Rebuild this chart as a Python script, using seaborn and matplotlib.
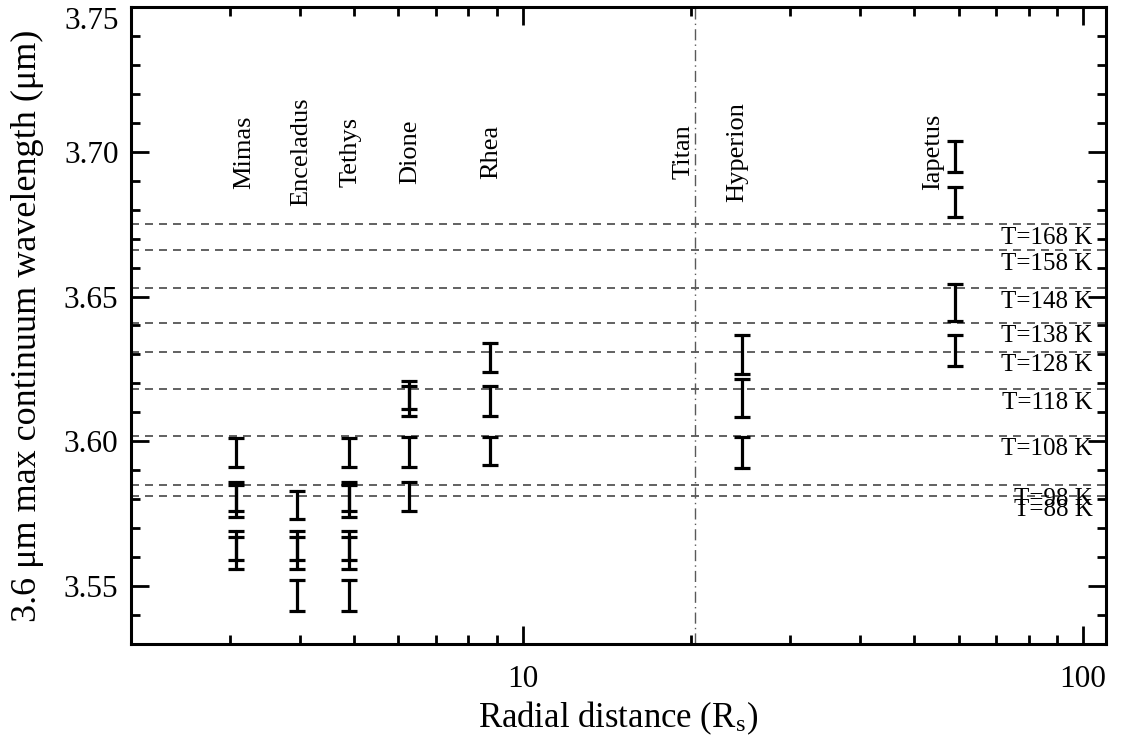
import numpy as np
import pandas as pd
import matplotlib
matplotlib.use("Agg")
import matplotlib.pyplot as plt
import matplotlib.ticker as mticker
import seaborn as sns

# Moons and their orbital distances (Saturn radii)
moonNames = ["Mimas", "Enceladus", "Tethys", "Dione", "Rhea", "Titan", "Hyperion", "Iapetus"]
moonDist = [3.08, 3.95, 4.89, 6.26, 8.74, 20.3, 24.6, 59.1]

# Error bar ranges of the 3.6 um continuum peak, one entry per observation
barMoon = (["Mimas"] * 5 + ["Enceladus"] * 4 + ["Tethys"] * 6 + ["Dione"] * 4
           + ["Rhea"] * 3 + ["Hyperion"] * 3 + ["Iapetus"] * 4)
barLow = [3.591, 3.576, 3.574, 3.559, 3.556,
          3.573, 3.559, 3.556, 3.5415,
          3.591, 3.576, 3.574, 3.559, 3.556, 3.5415,
          3.611, 3.6086, 3.591, 3.576,
          3.6238, 3.6086, 3.5917,
          3.6234, 3.6083, 3.5907,
          3.6931, 3.6776, 3.6414, 3.6259]
barHigh = [3.601, 3.586, 3.585, 3.569, 3.567,
           3.583, 3.569, 3.567, 3.552,
           3.601, 3.586, 3.585, 3.569, 3.567, 3.552,
           3.621, 3.619, 3.6014, 3.586,
           3.6338, 3.619, 3.6014,
           3.6366, 3.6214, 3.6014,
           3.7038, 3.6879, 3.6545, 3.6366]

# Temperature reference lines
tempK = [168, 158, 148, 138, 128, 118, 108, 98, 88]
tempWave = [3.675, 3.666, 3.653, 3.641, 3.631, 3.618, 3.602, 3.585, 3.581]

# small sideways nudges of the moon names (points)
labelNudge = {"Mimas": 5.8, "Enceladus": 3.6, "Tethys": 1.4, "Dione": 1.4, "Rhea": 0.7,
              "Titan": -8, "Hyperion": -3, "Iapetus": -16}

sns.set_theme(style="ticks")
plt.rcParams["font.family"] = ["Liberation Serif", "DejaVu Serif"]
plt.rcParams["mathtext.fontset"] = "stix"
plt.rcParams["text.color"] = "black"
plt.rcParams["axes.labelcolor"] = "black"
plt.rcParams["xtick.color"] = "black"
plt.rcParams["ytick.color"] = "black"

distLookup = dict(zip(moonNames, moonDist))
rows = []
for i, (m, lo, hi) in enumerate(zip(barMoon, barLow, barHigh)):
    rows.append({"bar": f"b{i}", "distance": distLookup[m], "wavelength": lo})
    rows.append({"bar": f"b{i}", "distance": distLookup[m], "wavelength": hi})
df = pd.DataFrame(rows)

fig = plt.figure(figsize=(11.22, 7.36), dpi=100)
ax = fig.add_axes([0.1168, 0.125, 0.869, 0.8655])

for lam in tempWave:
    ax.axhline(lam, color="0.28", lw=1.2, linestyle=(0, (4.8, 3.6)), zorder=1)
ax.axvline(distLookup["Titan"], color="0.35", lw=1.0, linestyle=(0, (8, 3, 1, 3)), zorder=1)

sns.lineplot(
    data=df, x="distance", y="wavelength", hue="bar",
    estimator="mean", errorbar=("pi", 100), err_style="bars",
    err_kws=dict(capsize=5.75, elinewidth=2.3, capthick=2.3),
    palette=["black"] * df["bar"].nunique(), legend=False, ax=ax,
)

ax.set_xscale("log")
ax.set_xlim(2, 110)
ax.set_ylim(3.53, 3.75)

for name, d in zip(moonNames, moonDist):
    ax.annotate(name, xy=(d, 3.70), xytext=(labelNudge[name], 0), textcoords="offset points",
                rotation=90, ha="center", va="center", fontsize=19, color="black")

for t, lam in zip(tempK, tempWave):
    ax.annotate(f"T={t} K", xy=(104, lam), xytext=(0, -2), textcoords="offset points",
                ha="right", va="top", fontsize=18, color="black")

ax.xaxis.set_major_formatter(mticker.FuncFormatter(lambda v, p: f"{v:g}"))
ax.xaxis.set_minor_formatter(mticker.NullFormatter())
ax.yaxis.set_major_locator(mticker.MultipleLocator(0.05))
ax.yaxis.set_minor_locator(mticker.MultipleLocator(0.01))
ax.yaxis.set_major_formatter(mticker.FormatStrFormatter("%.2f"))

ax.tick_params(which="both", direction="in", top=True, right=True,
               color="black", labelcolor="black")
ax.tick_params(which="major", length=13, width=2, labelsize=22.5)
ax.tick_params(axis="y", which="major", pad=9)
ax.tick_params(axis="x", which="major", pad=15)
ax.tick_params(which="minor", length=6.5, width=2)
for s in ax.spines.values():
    s.set_linewidth(2.2)
    s.set_color("black")

ax.set_xlabel("Radial distance (R$_\\mathregular{s}$)", fontsize=25, labelpad=4, color="black")
ax.set_ylabel("3.6 μm max continuum wavelength (μm)", fontsize=26, labelpad=14, color="black")

# the top tick label sits below its tick, as in the original
fig.canvas.draw()
for tk in ax.yaxis.get_major_ticks():
    if abs(tk.get_loc() - 3.75) < 1e-6:
        tk.label1.set_verticalalignment("top")

fig.savefig("out.png", dpi=100)
